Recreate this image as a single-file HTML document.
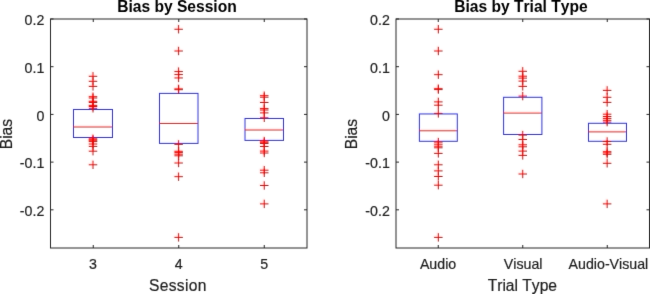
<!DOCTYPE html>
<html><head><meta charset="utf-8"><title>Bias boxplots</title>
<style>
html,body{margin:0;padding:0;background:#fff;width:650px;height:294px;overflow:hidden}
svg{display:block}
text{font-family:"Liberation Sans",Arial,Helvetica,sans-serif;fill:#000;font-kerning:none}
.t{font-size:14.2px;fill:#1e1e1e;stroke:#1e1e1e;stroke-width:0.2px}
.l{font-size:15.6px;fill:#1e1e1e;stroke:#1e1e1e;stroke-width:0.2px}
.ti{font-size:15.6px;font-weight:bold;fill:#000}
</style></head>
<body>
<svg width="650" height="294" viewBox="0 0 650 294">
<defs><filter id="b" x="0" y="0" width="650" height="294" filterUnits="userSpaceOnUse" color-interpolation-filters="sRGB">
<feColorMatrix in="SourceGraphic" type="matrix" values="0.299 0.587 0.114 0 0 -0.168736 -0.331264 0.5 0 0.5 0.5 -0.418688 -0.081312 0 0.5 0 0 0 1 0" result="ycc"/>
<feConvolveMatrix in="ycc" order="3" kernelMatrix="0.0064 0.0672 0.0064 0.0672 0.7056 0.0672 0.0064 0.0672 0.0064" divisor="1" edgeMode="duplicate" preserveAlpha="true" result="yb"/>
<feConvolveMatrix in="ycc" order="4" targetX="1" targetY="1" kernelMatrix="0.0156 0.0469 0.0469 0.0156 0.0469 0.1406 0.1406 0.0469 0.0469 0.1406 0.1406 0.0469 0.0156 0.0469 0.0469 0.0156" divisor="1" edgeMode="duplicate" preserveAlpha="true" result="cb"/>
<feColorMatrix in="yb" type="matrix" values="1 0 0 0 0 0 0 0 0 0 0 0 0 0 0 0 0 0 1 0" result="yo"/>
<feColorMatrix in="cb" type="matrix" values="0 0 0 0 0 0 1 0 0 0 0 0 1 0 0 0 0 0 1 0" result="co"/>
<feComposite in="yo" in2="co" operator="arithmetic" k1="0" k2="1" k3="1" k4="0" result="sum"/>
<feColorMatrix in="sum" type="matrix" values="1 0 1.402 0 -0.70375 1 -0.344136 -0.714136 0 0.531206 1 1.772 0 0 -0.88947 0 0 0 1 0"/>
</filter></defs>
<g filter="url(#b)">
<rect width="650" height="294" fill="#fff"/>
<rect x="73.5" y="109.5" width="39" height="28" fill="none" stroke="#3030ff" stroke-width="1"/>
<line x1="73.5" y1="127" x2="112.5" y2="127" stroke="#ff2020" stroke-width="1"/>
<path d="M88.75 76.3H97.25M88.75 81.3H97.25M88.75 86.4H97.25M88.75 96.7H97.25M88.75 98H97.25M88.75 101.3H97.25M88.75 102.5H97.25M88.75 105.4H97.25M88.75 106.5H97.25M88.75 108.3H97.25M88.75 138.8H97.25M88.75 139.8H97.25M88.75 140.8H97.25M88.75 141.6H97.25M88.75 144H97.25M88.75 146.4H97.25M88.75 151.2H97.25M88.75 164.8H97.25" fill="none" stroke="#ff0000" stroke-width="1"/>
<path d="M93 72.1V80.5M93 77.1V85.5M93 82.2V90.6M93 92.5V100.9M93 93.8V102.2M93 97.1V105.5M93 98.3V106.7M93 101.2V109.6M93 102.3V110.7M93 104.1V112.5M93 134.6V143M93 135.6V144M93 136.6V145M93 137.4V145.8M93 139.8V148.2M93 142.2V150.6M93 147V155.4M93 160.6V169" fill="none" stroke="#ff0000" stroke-width="1"/>
<rect x="159.5" y="93.4" width="38.5" height="50" fill="none" stroke="#3030ff" stroke-width="1"/>
<line x1="159.5" y1="123.5" x2="198" y2="123.5" stroke="#ff2020" stroke-width="1"/>
<path d="M174.4 29.25H182.9M174.4 51H182.9M174.4 71.6H182.9M174.4 74.6H182.9M174.4 77.95H182.9M174.4 88.9H182.9M174.4 89.7H182.9M174.4 144.4H182.9M174.4 151.3H182.9M174.4 152.6H182.9M174.4 154.2H182.9M174.4 155.8H182.9M174.4 163H182.9M174.4 176.7H182.9M174.4 237.4H182.9" fill="none" stroke="#ff0000" stroke-width="1"/>
<path d="M178.65 25.05V33.45M178.65 46.8V55.2M178.65 67.4V75.8M178.65 70.4V78.8M178.65 73.75V82.15M178.65 84.7V93.1M178.65 85.5V93.9M178.65 140.2V148.6M178.65 147.1V155.5M178.65 148.4V156.8M178.65 150V158.4M178.65 151.6V160M178.65 158.8V167.2M178.65 172.5V180.9M178.65 233.2V241.6" fill="none" stroke="#ff0000" stroke-width="1"/>
<rect x="245" y="118.5" width="38.5" height="21.9" fill="none" stroke="#3030ff" stroke-width="1"/>
<line x1="245" y1="130" x2="283.5" y2="130" stroke="#ff2020" stroke-width="1"/>
<path d="M260 95.7H268.5M260 97.2H268.5M260 102.5H268.5M260 108.6H268.5M260 110H268.5M260 112.9H268.5M260 117.8H268.5M260 141.1H268.5M260 142.3H268.5M260 143.5H268.5M260 146.5H268.5M260 151.1H268.5M260 153H268.5M260 170.2H268.5M260 172.8H268.5M260 185.5H268.5M260 203.9H268.5" fill="none" stroke="#ff0000" stroke-width="1"/>
<path d="M264.25 91.5V99.9M264.25 93V101.4M264.25 98.3V106.7M264.25 104.4V112.8M264.25 105.8V114.2M264.25 108.7V117.1M264.25 113.6V122M264.25 136.9V145.3M264.25 138.1V146.5M264.25 139.3V147.7M264.25 142.3V150.7M264.25 146.9V155.3M264.25 148.8V157.2M264.25 166V174.4M264.25 168.6V177M264.25 181.3V189.7M264.25 199.7V208.1" fill="none" stroke="#ff0000" stroke-width="1"/>
<rect x="50.5" y="19" width="256.5" height="229" fill="none" stroke="#262626" stroke-width="1"/>
<path d="M50.5 18.98h3M307 18.98h-3M50.5 66.69h3M307 66.69h-3M50.5 114.4h3M307 114.4h-3M50.5 162.11h3M307 162.11h-3M50.5 209.82h3M307 209.82h-3M93.25 248v-3M93.25 19v3M178.75 248v-3M178.75 19v3M264.25 248v-3M264.25 19v3" fill="none" stroke="#262626" stroke-width="1"/>
<text x="44.3" y="25.18" text-anchor="end" class="t">0.2</text>
<text x="44.3" y="72.89" text-anchor="end" class="t">0.1</text>
<text x="44.3" y="120.6" text-anchor="end" class="t">0</text>
<text x="44.3" y="168.31" text-anchor="end" class="t">-0.1</text>
<text x="44.3" y="216.02" text-anchor="end" class="t">-0.2</text>
<text x="92.85" y="269.2" text-anchor="middle" class="t">3</text>
<text x="178.75" y="269.2" text-anchor="middle" class="t">4</text>
<text x="264.25" y="269.2" text-anchor="middle" class="t">5</text>
<text x="177.85" y="291.2" text-anchor="middle" class="l" letter-spacing="0.3">Session</text>
<text transform="translate(11.6 134.1) rotate(-90)" x="0" y="0" text-anchor="middle" class="l">Bias</text>
<text x="176.95" y="12.1" text-anchor="middle" class="ti">Bias by Session</text>
<rect x="419.4" y="113.95" width="37.9" height="27.35" fill="none" stroke="#3030ff" stroke-width="1"/>
<line x1="419.4" y1="130.8" x2="457.3" y2="130.8" stroke="#ff2020" stroke-width="1"/>
<path d="M434.1 29.25H442.6M434.1 51H442.6M434.1 74.7H442.6M434.1 88.7H442.6M434.1 89.6H442.6M434.1 101.9H442.6M434.1 105.2H442.6M434.1 113.4H442.6M434.1 142.1H442.6M434.1 144.2H442.6M434.1 146.2H442.6M434.1 147.8H442.6M434.1 153.4H442.6M434.1 164.8H442.6M434.1 170.9H442.6M434.1 176.5H442.6M434.1 185.2H442.6M434.1 237.4H442.6" fill="none" stroke="#ff0000" stroke-width="1"/>
<path d="M438.35 25.05V33.45M438.35 46.8V55.2M438.35 70.5V78.9M438.35 84.5V92.9M438.35 85.4V93.8M438.35 97.7V106.1M438.35 101V109.4M438.35 109.2V117.6M438.35 137.9V146.3M438.35 140V148.4M438.35 142V150.4M438.35 143.6V152M438.35 149.2V157.6M438.35 160.6V169M438.35 166.7V175.1M438.35 172.3V180.7M438.35 181V189.4M438.35 233.2V241.6" fill="none" stroke="#ff0000" stroke-width="1"/>
<rect x="503.6" y="97.3" width="38.3" height="37.2" fill="none" stroke="#3030ff" stroke-width="1"/>
<line x1="503.6" y1="113.1" x2="541.9" y2="113.1" stroke="#ff2020" stroke-width="1"/>
<path d="M518.5 71.3H527M518.5 76.2H527M518.5 78.1H527M518.5 81.1H527M518.5 86.4H527M518.5 96.1H527M518.5 135.1H527M518.5 139.5H527M518.5 144.8H527M518.5 146.8H527M518.5 151.1H527M518.5 155.4H527M518.5 174H527" fill="none" stroke="#ff0000" stroke-width="1"/>
<path d="M522.75 67.1V75.5M522.75 72V80.4M522.75 73.9V82.3M522.75 76.9V85.3M522.75 82.2V90.6M522.75 91.9V100.3M522.75 130.9V139.3M522.75 135.3V143.7M522.75 140.6V149M522.75 142.6V151M522.75 146.9V155.3M522.75 151.2V159.6M522.75 169.8V178.2" fill="none" stroke="#ff0000" stroke-width="1"/>
<rect x="588.5" y="123.3" width="38" height="18" fill="none" stroke="#3030ff" stroke-width="1"/>
<line x1="588.5" y1="131.9" x2="626.5" y2="131.9" stroke="#ff2020" stroke-width="1"/>
<path d="M602.9 90.4H611.4M602.9 97.3H611.4M602.9 102.4H611.4M602.9 114.2H611.4M602.9 116.5H611.4M602.9 118.4H611.4M602.9 120.3H611.4M602.9 122.1H611.4M602.9 141.5H611.4M602.9 144.3H611.4M602.9 151.7H611.4M602.9 152.9H611.4M602.9 154.3H611.4M602.9 163.3H611.4M602.9 203.9H611.4" fill="none" stroke="#ff0000" stroke-width="1"/>
<path d="M607.15 86.2V94.6M607.15 93.1V101.5M607.15 98.2V106.6M607.15 110V118.4M607.15 112.3V120.7M607.15 114.2V122.6M607.15 116.1V124.5M607.15 117.9V126.3M607.15 137.3V145.7M607.15 140.1V148.5M607.15 147.5V155.9M607.15 148.7V157.1M607.15 150.1V158.5M607.15 159.1V167.5M607.15 199.7V208.1" fill="none" stroke="#ff0000" stroke-width="1"/>
<rect x="396" y="19" width="253.5" height="229" fill="none" stroke="#262626" stroke-width="1"/>
<path d="M396 18.98h3M649.5 18.98h-3M396 66.69h3M649.5 66.69h-3M396 114.4h3M649.5 114.4h-3M396 162.11h3M649.5 162.11h-3M396 209.82h3M649.5 209.82h-3M438.25 248v-3M438.25 19v3M522.75 248v-3M522.75 19v3M607.25 248v-3M607.25 19v3" fill="none" stroke="#262626" stroke-width="1"/>
<text x="389.8" y="25.18" text-anchor="end" class="t">0.2</text>
<text x="389.8" y="72.89" text-anchor="end" class="t">0.1</text>
<text x="389.8" y="120.6" text-anchor="end" class="t">0</text>
<text x="389.8" y="168.31" text-anchor="end" class="t">-0.1</text>
<text x="389.8" y="216.02" text-anchor="end" class="t">-0.2</text>
<text x="438.05" y="269.2" text-anchor="middle" class="t">Audio</text>
<text x="523.15" y="269.2" text-anchor="middle" class="t">Visual</text>
<text x="608.45" y="269.2" text-anchor="middle" class="t">Audio-Visual</text>
<text x="522.35" y="291.2" text-anchor="middle" class="l">Trial Type</text>
<text transform="translate(357.1 134.1) rotate(-90)" x="0" y="0" text-anchor="middle" class="l">Bias</text>
<text x="520.95" y="12.1" text-anchor="middle" class="ti">Bias by Trial Type</text>
</g>
</svg>
</body></html>
